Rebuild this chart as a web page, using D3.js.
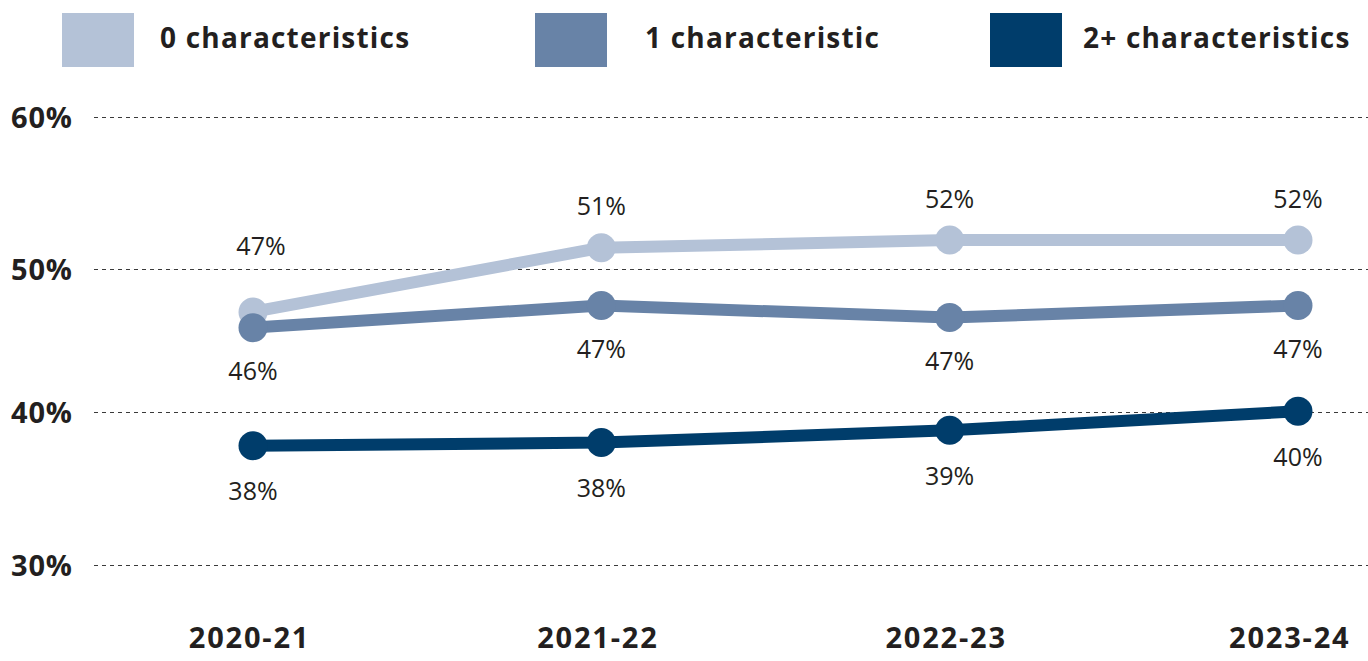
<!DOCTYPE html>
<html>
<head>
<meta charset="utf-8">
<script src="https://cdn.jsdelivr.net/npm/d3@7"></script>
<style>
  html, body { margin: 0; padding: 0; background: #fff; }
  svg { display: block; }
</style>
</head>
<body>
<svg id="chart" width="1368" height="661"></svg>
<script>
const years = ["2020-21", "2021-22", "2022-23", "2023-24"];
const seriesNames = ["0 characteristics", "1 characteristic", "2+ characteristics"];
const zeroChar = [47.0, 51.4, 51.9, 51.9];
const oneChar = [45.9, 47.45, 46.6, 47.45];
const twoPlusChar = [37.8, 38.0, 38.8, 40.05];
const yTicks = [30, 40, 50, 60];
const colors = ["#b4c2d7", "#6883a7", "#003d6b"];

const series = [zeroChar, oneChar, twoPlusChar].map((vals, i) => ({
  name: seriesNames[i], color: colors[i], values: vals
}));

const svg = d3.select("#chart");
const textColor = "#231f20";
const fontFamily = "'Open Sans', 'Noto Sans', sans-serif";

const x = d3.scalePoint().domain(years).range([253, 1298]);
const y = d3.scaleLinear().domain([30, 40, 50, 60]).range([565, 412, 269, 117]);

// gridlines + y labels
const yAxis = d3.axisLeft(y).tickValues(yTicks).tickFormat(d => d + "%").tickSize(0).tickPadding(0);
const gy = svg.append("g").call(yAxis);
gy.select(".domain").remove();
gy.selectAll(".tick text")
  .attr("x", 11).attr("text-anchor", "start").attr("dy", "0.35em")
  .attr("font-family", fontFamily).attr("font-weight", 700).attr("font-size", 29)
  .attr("letter-spacing", 0.8)
  .attr("fill", textColor);
gy.selectAll(".tick").append("line")
  .attr("x1", 94).attr("x2", 1368)
  .attr("stroke", "#3a3a3a").attr("stroke-width", 1).attr("stroke-dasharray", "4,4");

// x axis labels
const xAxis = d3.axisBottom(x).tickSize(0).tickPadding(0);
const gx = svg.append("g").attr("transform", "translate(0,638)").call(xAxis);
gx.select(".domain").remove();
gx.selectAll(".tick text")
  .attr("dy", "0.35em").attr("y", 0)
  .attr("font-family", fontFamily).attr("font-weight", 700).attr("font-size", 29)
  .attr("letter-spacing", 1.8)
  .attr("fill", textColor)
  .attr("text-anchor", (d, i) => i === years.length - 1 ? "end" : "middle")
  .attr("x", (d, i) => i === years.length - 1 ? 1350 - x(d) : -4);

// lines
const line = d3.line().x((d, i) => x(years[i])).y(d => y(d));
series.forEach(s => {
  svg.append("path").datum(s.values)
    .attr("d", line).attr("fill", "none")
    .attr("stroke", s.color).attr("stroke-width", 12)
    .attr("stroke-linejoin", "round");
  svg.selectAll(null).data(s.values).enter().append("circle")
    .attr("cx", (d, i) => x(years[i])).attr("cy", d => y(d))
    .attr("r", 14.5).attr("fill", s.color);
});

// data labels
const labelOffset = [-41, 44, 46];
const firstLabelExtra = -25; // nudge for crowded first point of top series
series.forEach((s, si) => {
  svg.selectAll(null).data(s.values).enter().append("text")
    .attr("x", (d, i) => x(years[i]) + (si === 0 && i === 0 ? 8 : 0))
    .attr("y", (d, i) => y(d) + labelOffset[si] + (si === 0 && i === 0 ? firstLabelExtra : 0))
    .attr("dy", "0.35em").attr("text-anchor", "middle")
    .attr("font-family", fontFamily).attr("font-size", 25)
    .attr("fill", textColor)
    .text(d => Math.round(d) + "%");
});

// legend
const legendSwatchX = [62, 535, 990];
const legendTextX = [160, 645, 1083];
series.forEach((s, i) => {
  svg.append("rect").attr("x", legendSwatchX[i]).attr("y", 13)
    .attr("width", 72).attr("height", 54).attr("fill", s.color);
  svg.append("text").attr("x", legendTextX[i]).attr("y", 38).attr("dy", "0.35em")
    .attr("font-family", fontFamily).attr("font-weight", 700).attr("font-size", 28)
    .attr("letter-spacing", 1.2)
    .attr("fill", textColor).text(s.name);
});
</script>
</body>
</html>
